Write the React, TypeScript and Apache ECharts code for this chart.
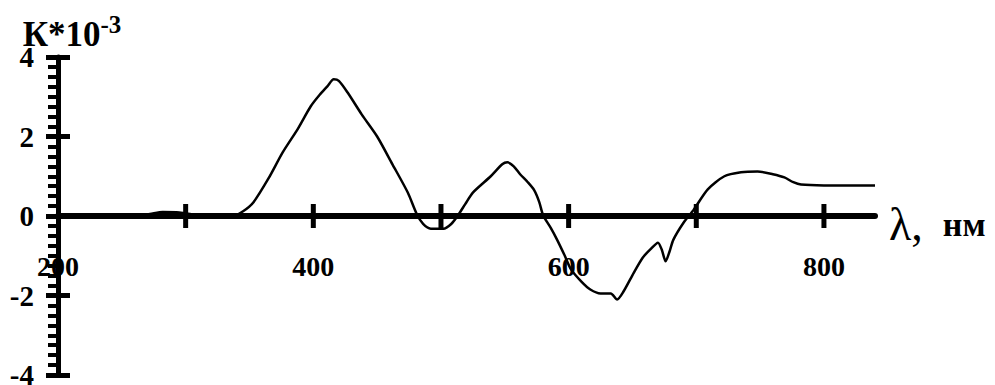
import React, { useEffect, useRef } from "react";
import * as echarts from "echarts";

const wavelength = [
  200, 260, 272, 282, 295, 310, 320, 337, 345, 353, 365, 376, 388, 398, 405, 411, 416, 420, 427, 438,
  450, 462, 474, 481, 486, 492, 502, 508, 513, 519, 525, 539, 548, 552, 557, 562, 568, 573, 577, 580,
  586, 591, 597, 602, 610, 617, 625, 633, 638, 643, 651, 658, 664, 670, 673, 676, 679, 682, 690, 698,
  709, 722, 735, 748, 760, 769, 776, 782, 800, 840,
];
const kValues = [
  0, 0, 0.05, 0.1, 0.09, 0.02, 0, 0, 0.12, 0.34, 0.95, 1.6, 2.2, 2.76, 3.05, 3.26, 3.44, 3.4, 3.1, 2.55,
  2.0, 1.3, 0.59, 0.05, -0.2, -0.32, -0.32, -0.2, 0, 0.3, 0.59, 1.0, 1.3, 1.35, 1.25, 1.05, 0.85, 0.65, 0.35, 0.02,
  -0.3, -0.6, -1.0, -1.35, -1.65, -1.85, -1.95, -1.95, -2.1, -1.9, -1.43, -1.05, -0.84, -0.67, -0.85, -1.14, -0.9, -0.6, -0.17, 0.16,
  0.67, 1.0, 1.1, 1.12, 1.05, 0.97, 0.85, 0.79, 0.77, 0.77,
];
const xTickValues = [300, 400, 500, 600, 700, 800];
const xLabelValues = [200, 400, 600, 800];
const yMin = -4;
const yMax = 4;
const yInterval = 2;

const SERIF = "'Liberation Serif', 'DejaVu Serif', serif";

export default function App() {
  const ref = useRef<HTMLDivElement>(null);
  useEffect(() => {
    if (!ref.current) return;
    const chart = echarts.init(ref.current, undefined, { renderer: "svg" });
    const lineData = wavelength.map((w, i) => [w, kValues[i]]);
    const tickData = xTickValues.map((w) => [w, 0]);
    const labelData = xLabelValues.map((w) => [w, 0]);
    chart.setOption({
      animation: false,
      backgroundColor: "#ffffff",
      grid: { left: 58, right: 120, top: 57, bottom: 10, outerBoundsMode: "none" },
      xAxis: {
        type: "value",
        min: 200,
        max: 840,
        interval: 100,
        name: "{l|λ,}{u|нм}",
        nameLocation: "end",
        nameGap: 14,
        nameMoveOverlap: false,
        nameTextStyle: {
          padding: [16, 0, 0, 0],
          rich: {
            l: { fontFamily: SERIF, fontSize: 46, color: "#000", fontWeight: "normal" },
            u: { fontFamily: SERIF, fontSize: 34, color: "#000", fontWeight: "bold", padding: [0, 0, 0, 20] },
          },
        },
        axisLine: { show: true, onZero: true, lineStyle: { color: "#000", width: 6 } },
        axisTick: { show: false },
        splitLine: { show: false },
        axisLabel: { show: false },
      },
      yAxis: [
        {
          type: "value",
          min: yMin,
          max: yMax,
          interval: yInterval,
          name: "{a|К*10}{b|-3}",
          nameLocation: "end",
          nameGap: 0,
          nameMoveOverlap: false,
          nameTextStyle: {
            padding: [0, 0, 0, 28],
            rich: {
              a: { fontFamily: SERIF, fontSize: 35, fontWeight: "bold", color: "#000" },
              b: { fontFamily: SERIF, fontSize: 25, fontWeight: "bold", color: "#000", verticalAlign: "top", padding: [0, 0, 20, 0] },
            },
          },
          axisLine: { show: true, onZero: false, lineStyle: { color: "#000", width: 5 } },
          axisTick: { show: true, inside: false, length: 12, lineStyle: { color: "#000", width: 5 } },
          minorTick: { show: true, splitNumber: 8, length: 10, lineStyle: { color: "#000", width: 4 } },
          splitLine: { show: false },
          axisLabel: {
            margin: 24,
            color: "#000",
            fontFamily: SERIF,
            fontWeight: "bold",
            fontSize: 29,
          },
        },
        {
          type: "value",
          min: yMin,
          max: yMax,
          interval: yInterval,
          position: "left",
          axisLine: { show: false, onZero: false },
          axisTick: { show: true, inside: true, length: 12, lineStyle: { color: "#000", width: 5 } },
          splitLine: { show: false },
          axisLabel: { show: false },
        },
      ],
      series: [
        {
          type: "line",
          data: lineData,
          showSymbol: false,
          smooth: 0.25,
          lineStyle: { color: "#000", width: 2.5 },
          z: 3,
        },
        {
          type: "scatter",
          data: tickData,
          symbol: "rect",
          symbolSize: [5, 24],
          itemStyle: { color: "#000", opacity: 1 },
          z: 4,
        },
        {
          type: "scatter",
          data: labelData,
          symbol: "circle",
          symbolSize: 0,
          itemStyle: { color: "#000", opacity: 1 },
          label: {
            show: true,
            position: "bottom",
            distance: 36,
            color: "#000",
            opacity: 1,
            fontFamily: SERIF,
            fontWeight: "bold",
            fontSize: 28,
            formatter: (p: any) => String(p.value[0]),
          },
          z: 5,
        },
      ],
    });
    return () => chart.dispose();
  }, []);
  return (
    <div
      ref={ref}
      style={{ position: "absolute", left: 0, top: 0, width: 995, height: 385, background: "#fff" }}
    />
  );
}
